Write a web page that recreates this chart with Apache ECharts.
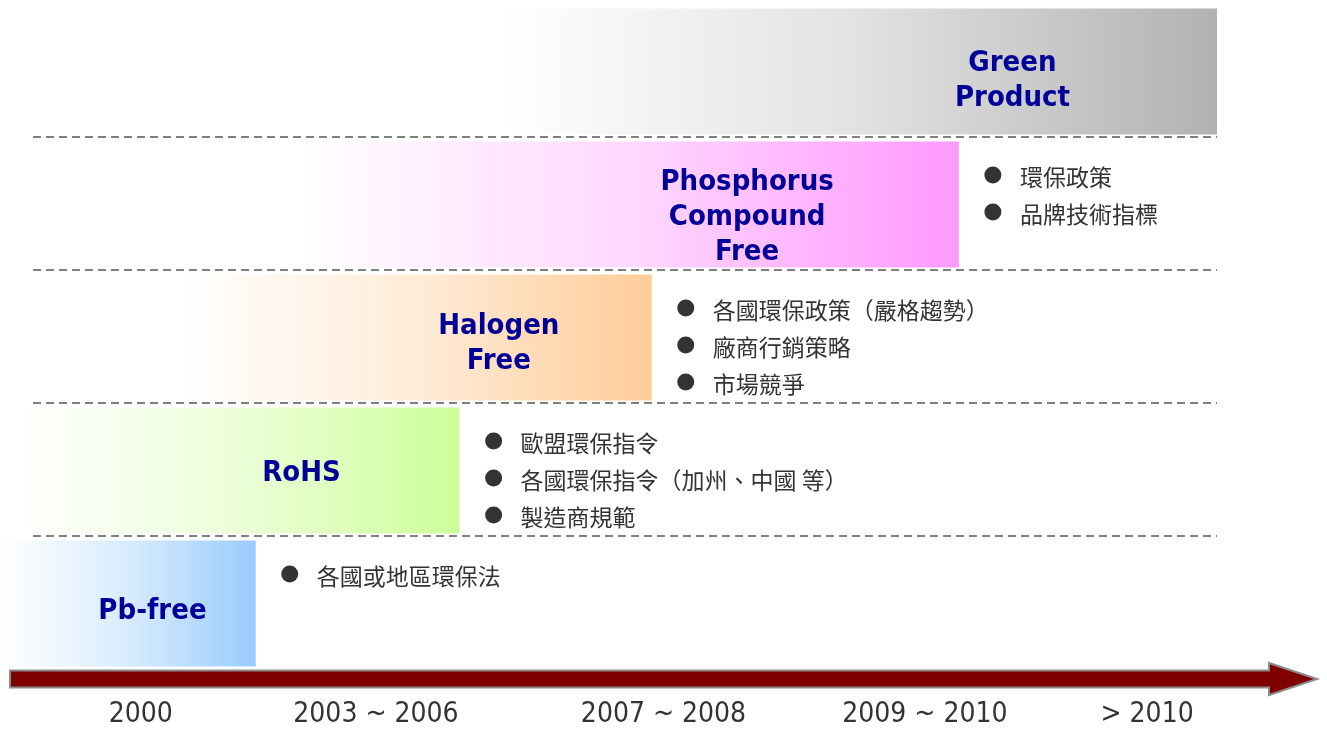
<!DOCTYPE html>
<html><head><meta charset="utf-8">
<script src="https://cdn.jsdelivr.net/npm/echarts@6/dist/echarts.min.js"></script>
<style>html,body{margin:0;padding:0;background:#fff}#main{width:1327px;height:729px}</style>
</head><body><div id="main"></div>
<script>
// ---- data ----
const stages = ['Pb-free', 'RoHS', 'Halogen\nFree', 'Phosphorus\nCompound\nFree', 'Green\nProduct'];
const stageStart = [-0.8, 0.8, 13.0, 22.2, 37.5];
const stageEnd = [18.8, 34.4, 49.1, 72.6, 92.35];
const stageLabelAt = [10.9, 22.3, 37.4, 56.4, 76.7];
const drivers = [
  ['各國或地區環保法'],
  ['歐盟環保指令', '各國環保指令（加州、中國 等）', '製造商規範'],
  ['各國環保政策（嚴格趨勢）', '廠商行銷策略', '市場競爭'],
  ['環保政策', '品牌技術指標'],
  []
];
const periodLabels = ['2000', '2003 ~ 2006', '2007 ~ 2008', '2009 ~ 2010', '> 2010'];
const periodAt = [10, 28, 50, 70, 87];
const timelineStart = 0, timelineEnd = 100;
const separatorFrom = 1.76, separatorTo = 92.35;

// ---- style ----
const palette = ['#99CCFF', '#CCFF99', '#FFCC99', '#FF99FF', '#B2B2B2'];
const labelDy = [8, 3, 6, 13, 9];
const condFont = "'DejaVu Sans Condensed', 'DejaVu Sans', sans-serif";
const cjkFont = "'Noto Sans CJK TC', 'Noto Sans CJK SC', sans-serif";

function mix(hex, t) {
  const n = parseInt(hex.slice(1), 16);
  const r = (n >> 16) & 255, g = (n >> 8) & 255, b = n & 255;
  const f = c => Math.round(255 + (c - 255) * t);
  return 'rgb(' + f(r) + ',' + f(g) + ',' + f(b) + ')';
}

const chart = echarts.init(document.getElementById('main'), null, {renderer: 'canvas'});

const option = {
  backgroundColor: '#ffffff',
  animation: false,
  grid: {left: 10, right: 10, top: 5, bottom: 59, containLabel: false},
  xAxis: {
    type: 'value', min: timelineStart, max: timelineEnd,
    axisLine: {show: false}, axisTick: {show: false}, splitLine: {show: false},
    axisLabel: {
      customValues: periodAt,
      formatter: v => periodLabels[periodAt.indexOf(v)],
      margin: 31, fontSize: 28, color: '#333333', fontFamily: condFont
    }
  },
  yAxis: {
    type: 'category', data: stages,
    axisLine: {show: false}, axisTick: {show: false}, axisLabel: {show: false}, splitLine: {show: false}
  },
  series: [
    {
      type: 'custom', name: 'stages', z: 2,
      data: stages.map((s, i) => [stageStart[i], i, stageEnd[i], stageLabelAt[i]]),
      encode: {x: [0, 2], y: 1},
      renderItem(params, api) {
        const i = api.value(1);
        const p0 = api.coord([api.value(0), i]);
        const p1 = api.coord([api.value(2), i]);
        const rowH = api.size([0, 1])[1];
        const h = rowH * 0.947;
        const lx = api.coord([api.value(3), i])[0];
        const c = palette[i];
        return {
          type: 'group', children: [
            {
              type: 'rect',
              shape: {x: p0[0], y: p0[1] - h / 2, width: p1[0] - p0[0], height: h},
              style: {fill: new echarts.graphic.LinearGradient(0, 0, 1, 0, [
                {offset: 0, color: '#ffffff'},
                {offset: 0.5, color: mix(c, 0.38)},
                {offset: 1, color: c}
              ])}
            },
            {
              type: 'text',
              style: {
                text: stages[i], x: lx, y: p0[1] + labelDy[i],
                align: 'center', verticalAlign: 'middle',
                fontSize: 29, fontWeight: 'bold', fontFamily: condFont,
                lineHeight: 35, fill: '#000099'
              }
            }
          ]
        };
      }
    },
    {
      type: 'custom', name: 'separators', z: 3,
      data: [0, 1, 2, 3].map(i => [separatorFrom, i, separatorTo]),
      encode: {x: [0, 2], y: 1},
      renderItem(params, api) {
        const i = api.value(1);
        const a = api.coord([api.value(0), i]);
        const b = api.coord([api.value(2), i]);
        const rowH = api.size([0, 1])[1];
        const y = Math.round(a[1] - rowH / 2) - 1;
        return {
          type: 'line',
          shape: {x1: a[0], y1: y, x2: b[0], y2: y},
          style: {stroke: '#808080', lineWidth: 2, lineDash: [8, 5]}
        };
      }
    },
    {
      type: 'custom', name: 'drivers', z: 4,
      data: stages.map((s, i) => [stageEnd[i], i]),
      encode: {x: 0, y: 1},
      renderItem(params, api) {
        const i = api.value(1);
        const p = api.coord([api.value(0), i]);
        const rowH = api.size([0, 1])[1];
        const top = p[1] - rowH / 2;
        const children = [];
        drivers[i].forEach((t, k) => {
          const y = top + 37 + k * 37;
          children.push({type: 'circle', shape: {cx: p[0] + 34, cy: y, r: 8.5}, style: {fill: '#333333'}});
          children.push({
            type: 'text',
            style: {text: t, x: p[0] + 61, y: y + 2, align: 'left', verticalAlign: 'middle',
              fontSize: 23, fontFamily: cjkFont, fill: '#333333'}
          });
        });
        return {type: 'group', children};
      }
    },
    {
      type: 'custom', name: 'timeline', z: 5,
      data: [[timelineStart, 0, timelineEnd]],
      encode: {x: [0, 2], y: 1},
      renderItem(params, api) {
        const a = api.coord([api.value(0), 0]);
        const b = api.coord([api.value(2), 0]);
        const rowH = api.size([0, 1])[1];
        const y = a[1] + rowH / 2 + 9;
        const x0 = a[0], x1 = b[0], hx = x1 - 48;
        return {
          type: 'polygon',
          shape: {points: [[x0, y - 8.5], [hx, y - 8.5], [hx, y - 16], [x1, y], [hx, y + 16], [hx, y + 8.5], [x0, y + 8.5]]},
          style: {fill: '#800000', stroke: '#8c8c8c', lineWidth: 2}
        };
      }
    }
  ]
};
chart.setOption(option);
</script>
</body></html>
